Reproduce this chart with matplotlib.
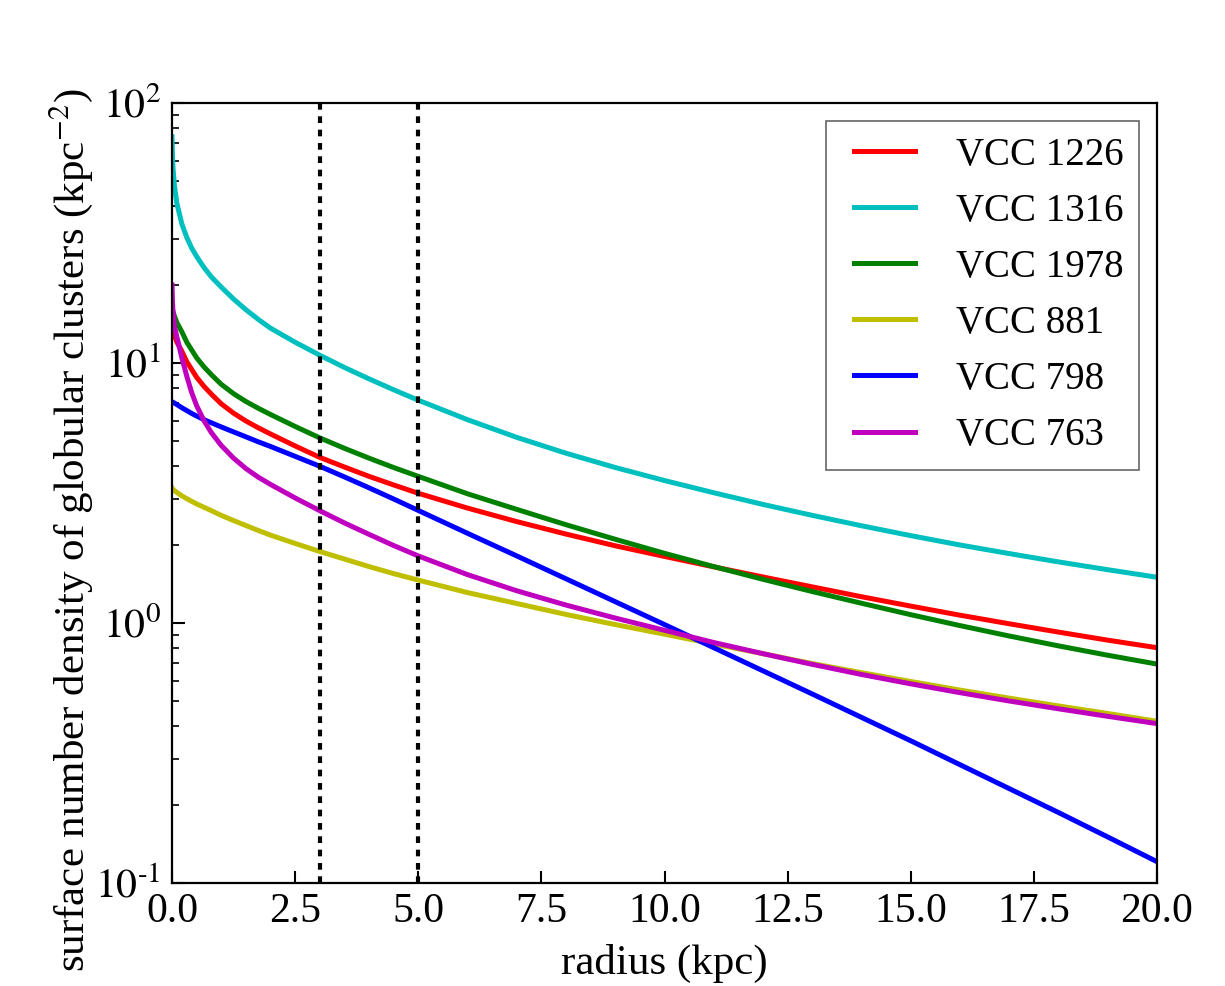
import matplotlib
matplotlib.use("Agg")
import matplotlib.pyplot as plt
import numpy as np
from matplotlib.ticker import LogLocator, FixedLocator, FixedFormatter
from matplotlib.legend_handler import HandlerLine2D
from matplotlib.lines import Line2D

# ---- data (values are log10 of the density) ----
radius = [0, 0.01, 0.02, 0.05, 0.1, 0.2, 0.3, 0.4, 0.5, 0.65, 0.8, 1.0, 1.25, 1.5, 1.75,
          2.0, 2.5, 3.0, 3.5, 4.0, 4.5, 5.0, 6.0, 7.0, 8.0, 9.0, 10.0, 11.0, 12.0, 13.0,
          14.0, 15.0, 16.0, 17.0, 18.0, 19.0, 20.0]

log_vcc1226 = [1.155, 1.14, 1.13, 1.105, 1.08, 1.045, 1.005, 0.975, 0.945, 0.91, 0.88, 0.843,
               0.807, 0.777, 0.751, 0.727, 0.681, 0.637, 0.600, 0.564, 0.531, 0.499, 0.442,
               0.390, 0.342, 0.297, 0.256, 0.216, 0.177, 0.139, 0.101, 0.065, 0.030, -0.003,
               -0.035, -0.066, -0.095]
log_vcc1316 = [1.87, 1.79, 1.75, 1.68, 1.613, 1.535, 1.483, 1.442, 1.41, 1.367, 1.331, 1.292,
               1.246, 1.205, 1.168, 1.134, 1.080, 1.030, 0.983, 0.939, 0.897, 0.857, 0.782,
               0.714, 0.653, 0.598, 0.548, 0.501, 0.456, 0.414, 0.374, 0.336, 0.300, 0.267,
               0.235, 0.205, 0.176]
log_vcc1978 = [1.215, 1.205, 1.198, 1.18, 1.155, 1.12, 1.08, 1.05, 1.02, 0.985, 0.955, 0.918,
               0.882, 0.852, 0.826, 0.802, 0.756, 0.712, 0.672, 0.634, 0.598, 0.564, 0.497,
               0.437, 0.378, 0.322, 0.268, 0.217, 0.168, 0.121, 0.076, 0.032, -0.010, -0.050,
               -0.088, -0.124, -0.158]
log_vcc881 = [0.52, 0.517, 0.515, 0.509, 0.502, 0.489, 0.478, 0.468, 0.458, 0.445, 0.432, 0.414,
              0.394, 0.375, 0.356, 0.338, 0.306, 0.275, 0.246, 0.217, 0.190, 0.165, 0.117,
              0.075, 0.033, -0.006, -0.043, -0.081, -0.118, -0.156, -0.191, -0.225, -0.258,
              -0.289, -0.319, -0.348, -0.378]
log_vcc798 = [0.851, 0.850, 0.849, 0.846, 0.84, 0.828, 0.817, 0.806, 0.796, 0.782, 0.77, 0.754,
              0.735, 0.716, 0.697, 0.679, 0.641, 0.603, 0.562, 0.520, 0.477, 0.433, 0.345,
              0.258, 0.170, 0.082, -0.006, -0.095, -0.184, -0.273, -0.363, -0.453, -0.545,
              -0.637, -0.729, -0.823, -0.918]
log_vcc763 = [1.30, 1.23, 1.20, 1.14, 1.10, 1.02, 0.949, 0.886, 0.836, 0.778, 0.732, 0.683,
              0.634, 0.594, 0.561, 0.533, 0.481, 0.432, 0.385, 0.341, 0.298, 0.258, 0.186,
              0.124, 0.069, 0.019, -0.028, -0.075, -0.118, -0.159, -0.198, -0.234, -0.268,
              -0.300, -0.330, -0.359, -0.387]

names = ["VCC 1226", "VCC 1316", "VCC 1978", "VCC 881", "VCC 798", "VCC 763"]
colors = ["#ff0000", "#00bfbf", "#008000", "#bfbf00", "#0000ff", "#bf00bf"]
series_logs = [log_vcc1226, log_vcc1316, log_vcc1978, log_vcc881, log_vcc798, log_vcc763]

vlines = [3.0, 5.0]
xticks = [0, 2.5, 5, 7.5, 10, 12.5, 15, 17.5, 20]
yticks = [0.1, 1, 10, 100]
ytick_labels = [r"$10^{\text{-}1}$", r"$10^{0}$", r"$10^{1}$", r"$10^{2}$"]

plt.rcParams['font.family'] = ['Liberation Serif', 'DejaVu Serif']
plt.rcParams['mathtext.fontset'] = 'stix'

fig = plt.figure(figsize=(12.25, 9.86), dpi=100)
ax = fig.add_axes([172/1225, 1-883/986, (1157-172)/1225, (883-103)/986])

for name, logs, col in zip(names, series_logs, colors):
    ax.plot(radius, 10 ** np.asarray(logs), color=col, lw=3.6, label=name,
            solid_joinstyle='round')

for xv in vlines:
    ax.axvline(xv, color='black', ls=(0, (1.6, 1.6)), lw=3)

ax.set_yscale('log')
ax.set_xlim(0, 20)
ax.set_ylim(0.1, 100)
ax.xaxis.set_major_locator(FixedLocator(xticks))
ax.set_xticklabels([f"{t:.1f}" for t in xticks])
ax.yaxis.set_major_locator(FixedLocator(yticks))
ax.yaxis.set_major_formatter(FixedFormatter(ytick_labels))
ax.yaxis.set_minor_locator(LogLocator(base=10, subs=range(2, 10), numticks=10))

ax.tick_params(axis='both', which='both', direction='in', top=False, right=False)
ax.tick_params(axis='x', which='major', length=9, width=1.5, labelsize=30, pad=7)
ax.tick_params(axis='y', which='major', length=9, width=1.5, labelsize=30, pad=8)
ax.tick_params(axis='y', which='minor', length=5, width=1.2, labelleft=False)
ax.tick_params(axis='x', which='minor', bottom=False)

for sp in ax.spines.values():
    sp.set_linewidth(1.6)

ax.set_xlabel("radius (kpc)", fontsize=31)
ax.xaxis.set_label_coords(0.5, -0.078)
ax.set_ylabel("surface number density of globular clusters (kpc$^{-2}$)", fontsize=31)
ax.yaxis.set_label_coords(-0.078, 0.4526)

leg = ax.legend(loc='upper right', fontsize=28, frameon=True, fancybox=False,
                handlelength=1.88, handletextpad=1.05, labelspacing=0.49,
                borderaxespad=0.47, borderpad=0.4,
                handler_map={Line2D: HandlerLine2D(xpad=0.33)})
leg.get_frame().set_edgecolor('#404040')
leg.get_frame().set_linewidth(1.2)

fig.savefig("out.png", dpi=100)
